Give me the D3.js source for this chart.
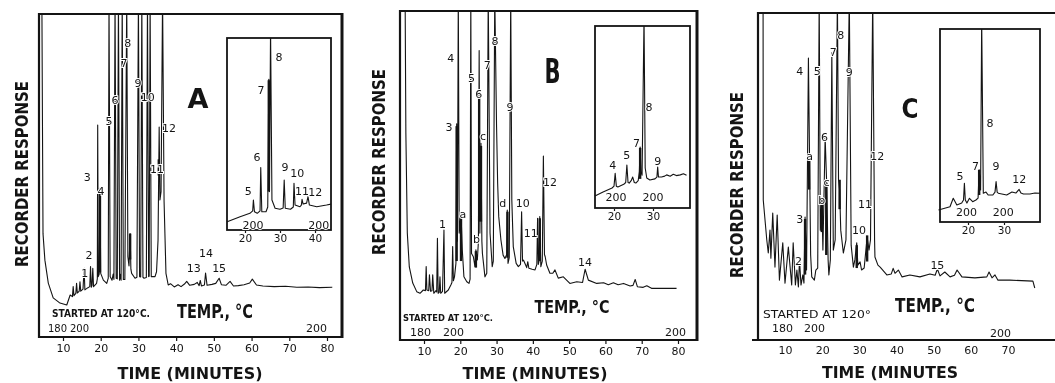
<!DOCTYPE html>
<html>
<head>
<meta charset="utf-8">
<script src="https://cdn.jsdelivr.net/npm/d3@7"></script>
<style>
  body { margin: 0; background: #fff; }
  svg { display: block; will-change: transform; }
  .num { font-family: "DejaVu Sans", sans-serif; font-size: 11px; fill: #141414; }
  .bold { font-family: "DejaVu Sans Condensed", "DejaVu Sans", sans-serif; font-weight: bold; fill: #141414; }
</style>
</head>
<body>
<svg id="fig" width="1055" height="383"></svg>
<script>
// ---- data (time in minutes, response in % of full scale; >100 = off scale) ----
const timeTicksAB = [10, 20, 30, 40, 50, 60, 70, 80];
const timeTicksC = [10, 20, 30, 40, 50, 60, 70];
const insetTicksA = [20, 30, 40];
const insetTicksBC = [20, 30];

const yTitle = "RECORDER RESPONSE";
const xTitles = ["TIME  (MINUTES)", "TIME  (MINUTES)", "TIME  (MINUTES"];
const tempTitle = "TEMP., °C";
const startedTexts = ["STARTED AT 120°C.", "STARTED AT 120°C.", "STARTED AT 120°"];
const startTemps = ["180", "200"];
const endTemp = "200";

const traceA = [[4.4,104],[4.55,67],[4.7,32],[5.2,23.8],[6.1,16.7],[7.4,12.1],[9.2,10.5],[11.0,9.9],
  [11.9,13],[12.5,12.5],[12.7,15.6],[12.9,12.8],[13.4,13.5],[13.6,16.6],[13.8,13.6],[14.3,14.2],[14.5,17.1],[14.7,14.2],
  [15.3,14.8],[15.6,21.3],[15.8,14.6],[16.5,15.2],[17.1,15.6],[17.3,21.8],[17.5,15.4],[17.7,16],[17.9,21.3],[18.1,15.6],
  [18.9,16.6],[19.1,18],[19.2,65.6],[19.35,18.7],[19.6,19.5],[19.8,46],[20.0,19.7],[20.7,17.6],[21.6,16.6],[22.0,18.2],
  [22.2,105],[22.5,18.7],[23.0,17.6],[23.3,19.5],[23.5,17.8],[23.8,105],[24.1,18.2],[24.4,18],[24.7,105],[25.0,17.6],
  [25.2,19.4],[25.4,17.6],[25.7,105],[26.0,17.8],[26.4,17.8],[26.9,105],[27.2,24.9],[27.5,22],[27.8,32],[28.0,21],
  [28.2,19.7],[29.1,18.2],[29.6,18.5],[30.0,105],[30.3,18.7],[30.6,18.6],[30.9,105],[31.2,18.5],[31.5,18.2],[32.1,18.4],
  [32.4,105],[32.7,18.7],[32.85,18.8],[33.1,105],[33.4,18.7],[34.4,18.7],[34.8,20.2],[35.2,30],[35.5,65],[35.7,42.4],
  [36.0,45],[36.4,105],[36.8,42],[37.3,19.7],[37.9,16.1],
  [38.5,16.5],[39.5,15.5],[40.5,16.2],[41.3,15.6],[42.2,16.4],[42.8,17.2],[43.6,16],[44.8,16.3],[45.6,16.9],[46.1,15.9],
  [46.4,17.5],[46.7,15.8],[47.5,16.1],[47.8,19.8],[48.2,16],[49.5,16.3],[50.5,16.6],[51.4,18.2],[52.0,16.2],[53.2,16],
  [54.3,17.2],[55.2,15.8],[56.5,15.9],[58,16.2],[59.5,16.7],[60.2,17.9],[61.3,16.1],[63,15.8],[66,15.6],[69,15.7],
  [72,15.4],[75,15.5],[78,15.3],[81.4,15.4]];
const heavyA = [[19.8,20,46],[27.8,24,32],[35.4,50,55]];
const peakLabelsA = [[15.8,19.8,"1"],[16.9,25.1,"2"],[16.4,49.5,"3"],[20.1,44.9,"4"],[22.2,66.6,"5"],[23.8,73.1,"6"],
  [26.2,84.8,"7"],[27.2,91.0,"8"],[29.9,78.6,"9"],[32.5,74.0,"10"],[34.9,52.0,"11"],[38.1,64.7,"12"],
  [44.7,21.1,"13"],[47.9,26.0,"14"],[51.4,21.1,"15"]];

const insetTraceA = [[14.9,4.3],[18.6,6.9],[21.4,8.7],[22.2,10],[22.4,15.6],[22.7,9.5],[23.5,8.7],[24.3,10],[24.5,32.5],
  [24.8,9.5],[26.0,9.5],[26.5,12],[26.8,78.5],[27.0,20],[27.3,105],[27.7,15.6],[28.6,11.3],[30.0,10.8],[30.9,11.5],
  [31.2,26],[31.5,11.3],[33.0,10.8],[33.8,12],[34.0,24.3],[34.3,13],[35.7,12.1],[36.1,13],[36.3,16],[36.6,13.5],
  [37.6,14],[38.0,17.4],[38.4,13],[40.5,12.1],[43.3,13],[44.6,13.5]];
const insetHeavyA = [[26.8,20,78]];
const insetLabelsA = [[20.9,19.8,"5"],[23.4,38,"6"],[24.6,72.9,"7"],[29.7,89.6,"8"],[31.4,32.3,"9"],[34.9,29.2,"10"],
  [36.3,19.8,"11"],[40.1,19.3,"12"]];
const insetTempsA = [[22.3,2.6,"200"],[41.1,2.6,"200"]];

const traceB = [[4.8,104],[5.0,63],[5.4,32.5],[5.95,22.2],[6.9,17.3],[8.0,14.7],[8.9,14.2],[9.8,15.2],[10.4,15],[10.6,22.3],
  [10.8,15.2],[11.3,15],[11.5,19.8],[11.8,14.8],[12.2,15],[12.4,19.8],[12.7,14.2],[13.3,15],[13.5,14.6],[13.7,30.9],
  [13.9,14.2],[14.2,14.5],[14.4,19.2],[14.6,14.2],[15.1,14.8],[15.5,33.4],[15.7,14.2],[16.7,15.2],[17.4,16.7],[17.7,17.5],
  [17.9,28.4],[18.1,18],[18.4,19.2],[18.8,23.3],[19.0,65.7],[19.2,30],[19.45,105],[19.7,32.5],[20.2,38.5],[20.55,27.4],
  [21.0,19.2],[21.8,17.7],[22.4,17.2],[22.7,18.5],[22.9,105],[23.1,26.3],[23.6,25.3],[24.05,22.3],[24.3,27.4],[24.7,24.3],
  [25.0,30],[25.2,88],[25.4,32.5],[25.7,59.8],[25.95,30],[26.1,26.3],[26.8,19.2],[27.3,20.3],[27.7,105],[28.2,32.5],
  [28.8,22.3],[29.1,24],[29.5,105],[30.0,64.8],[30.3,47.6],[30.6,37.5],[31.2,30.4],[31.8,25.8],[32.3,24.8],[32.8,26],
  [32.95,39.5],[33.15,23.3],[33.5,25],[33.9,105],[34.2,42.6],[34.6,28.4],[35.4,23.3],[36.0,22.3],[36.6,23],[36.9,39],
  [37.15,24],[37.4,24.3],[37.8,23.3],[38.3,22],[38.6,23.8],[38.9,21.8],[39.8,21.5],[40.6,21.3],[41.1,23],[41.3,37],
  [41.5,23],[41.7,24],[41.9,37.5],[42.2,22.3],[42.6,24],[42.9,55.9],[43.2,26],[43.4,25.3],[43.8,22.8],[44.7,20.3],
  [45.5,20.3],[46.1,21.3],[47.0,18.8],[48.4,19.2],[50.2,17.2],[52.1,17.7],[53.7,17.5],[54.4,21.5],[55.3,18.2],[57.6,17.2],
  [59.5,17.4],[60.8,16.8],[62.2,17.4],[63.5,16.8],[65.0,17.2],[66.8,16.4],[67.6,16.6],[68.2,18.4],[68.8,16.2],[70.4,16],
  [71.4,16.5],[72.7,15.7],[75.9,15.7],[79.6,15.7]];
const heavyB = [[19.0,24,65],[20.2,24,38],[24.3,22,27],[25.2,36,74],[25.7,36,59],[33.0,25,39],[41.9,24,37]];
const peakLabelsB = [[15.1,35,"1"],[16.9,64.7,"3"],[17.4,85.7,"4"],[20.7,38,"a"],[23.1,79.6,"5"],[25.1,74.5,"6"],
  [24.5,30.4,"b"],[26.3,62,"c"],[27.4,83.3,"7"],[29.6,90.6,"8"],[33.7,70.8,"9"],[31.7,41.6,"d"],[37.2,41.6,"10"],
  [39.4,32.5,"11"],[44.7,48,"12"],[54.4,23.7,"14"]];

const insetTraceB = [[15.1,6.6],[17.2,8.8],[19.5,11],[20.0,12],[20.3,19],[20.6,12],[21.0,11.5],[22.5,13],[23.0,14],
  [23.3,23.6],[23.6,14],[23.9,13.7],[24.4,15],[24.8,17],[25.2,14],[25.6,13.7],[26.2,15],[26.5,20],[26.7,33.5],[26.9,20],
  [27.2,18],[27.7,105],[28.0,22],[28.4,16.5],[29.2,15.4],[30.5,16],[31.0,17],[31.2,22.5],[31.4,17],[32.2,17],[33.0,17.5],
  [33.5,18.2],[34.4,17.5],[35.2,18.5],[36.0,17.8],[37.0,18.2],[37.8,18.8],[38.6,18]];
const insetHeavyB = [[26.7,16,33]];
const insetLabelsB = [[19.7,23.6,"4"],[23.3,28.6,"5"],[25.8,35.7,"7"],[29,55,"8"],[31.2,25.3,"9"]];
const insetTempsB = [[20.5,5.5,"200"],[30,5.5,"200"]];

const traceC = [[4.1,104],[4.15,42.8],[5.1,30.6],[5.5,26.6],[5.96,33.6],[6.2,25],[6.7,38.8],[7.3,22.3],[7.9,38.2],
  [8.5,18.3],[9.4,29.7],[10.0,17.4],[10.9,28.4],[11.8,16.8],[12.2,29.7],[12.8,16.8],[13.2,21.4],[13.6,16.2],[13.9,24.5],
  [14.3,16.8],[14.8,19.9],[15.1,17.4],[15.4,37.6],[15.8,21.4],[16.3,86.2],[16.6,56],[16.9,26],[17.2,19.3],[17.9,18.3],
  [18.3,21.4],[18.8,22],[19.2,105],[19.5,33.6],[19.9,42.8],[20.2,27.5],[20.8,62],[21.2,48.3],[21.6,24.5],[21.8,19.9],
  [22.2,24.5],[22.6,87.8],[23.0,27.5],[23.5,30.6],[24.1,105],[24.4,49],[24.7,45.9],[25.0,33.6],[25.7,26.6],[26.4,30.6],
  [27.3,105],[27.8,29],[28.4,22.3],[28.8,24.5],[29.3,29.7],[29.6,22.9],[30.2,23.9],[30.6,21.4],[31.3,22],[32.1,31.5],
  [32.6,27.5],[33.0,30.6],[33.6,105],[34.1,30.6],[34.2,25.4],[35.0,22.9],[35.6,22.3],[37.4,19.9],[38.6,20.2],[39.1,21.9],
  [39.6,20.4],[40.5,21.4],[41.5,19.3],[43.6,19.9],[46.3,19.3],[49.0,20.2],[50.4,19.8],[51.0,21.7],[51.7,19.6],[53.0,20.8],
  [54.4,19.3],[55.6,19.8],[56.3,21.4],[57.6,19.3],[61.1,19.0],[64.3,19.3],[64.9,20.8],[65.7,19.0],[66.5,19.9],[67.3,18.3],
  [70.5,18.3],[76.7,18.0],[77.2,15.9]];
const heavyC = [[15.4,20,37],[16.5,46,56],[19.9,33,43],[21.1,26,48],[24.7,40,49],[29.3,22,29],[32.1,24,32]];
const peakLabelsC = [[13.6,23.9,"2"],[14.0,36.7,"3"],[14.0,82,"4"],[16.6,56,"a"],[18.7,82,"5"],[19.9,42.8,"b"],
  [20.6,62,"6"],[21.2,48.3,"c"],[23.0,88,"7"],[25.0,93,"8"],[27.3,81.7,"9"],[29.9,33.6,"10"],[31.5,41.3,"11"],
  [34.8,56,"12"],[51.0,22.9,"15"]];

const insetTraceC = [[11.8,6.2],[15.0,7.9],[15.9,12.3],[16.9,8.8],[18.25,9.8],[18.75,11.4],[19.0,20],[19.25,11.4],
  [19.7,9.8],[20.4,12.3],[21.3,10.5],[22.2,11.4],[22.8,12.4],[23.1,27],[23.5,16.6],[23.8,105],[24.25,14.9],[25.0,15.5],
  [25.6,14],[26.9,14],[27.5,15.5],[27.8,20.9],[28.1,15.5],[28.4,14.9],[30.75,14],[32.2,15.5],[33.3,15],[34.2,16.9],
  [34.7,15],[35.4,14.5],[37.2,14.5],[38.6,15],[40.0,14.9]];
const insetHeavyC = [[23.1,14,27]];
const insetLabelsC = [[17.8,23.5,"5"],[22.1,28.7,"7"],[26.1,51.1,"8"],[27.8,28.7,"9"],[34.25,21.8,"12"]];
const insetTempsC = [[19.6,5,"200"],[29.8,5,"200"]];

// ---- layout ----
const ink = "#141414";
const svg = d3.select("#fig");
const defs = svg.append("defs");

const panels = [
  { id: "A", frame: { l: 39, t: 14, r: 342, b: 337 }, closed: true,
    xd: [10, 80], xr: [63, 327], ticks: timeTicksAB, tickSize: 3, tickPad: 3,
    trace: traceA, heavy: heavyA, labels: peakLabelsA,
    inset: { box: { l: 227, t: 38, r: 331, b: 230 }, xd: [20, 40], xr: [245, 315], ticks: insetTicksA,
      trace: insetTraceA, heavy: insetHeavyA, labels: insetLabelsA, temps: insetTempsA },
    letter: { x: 198, y: 108, size: 27, len: 21 },
    yT: { x: 22, y: 174 }, xT: { x: 190, y: 379, len: 145 },
    temp: { x: 215, y: 318, size: 20, len: 76 },
    started: { x: 52, y: 317, len: 98, size: 10 },
    startT: { x1: 48, x2: 70, y: 332, size: 10 }, endT: { x: 306, y: 332 } },
  { id: "B", frame: { l: 400, t: 11, r: 697, b: 340 }, closed: true,
    xd: [10, 80], xr: [424, 678], ticks: timeTicksAB, tickSize: 3, tickPad: 3,
    trace: traceB, heavy: heavyB, labels: peakLabelsB,
    inset: { box: { l: 595, t: 26, r: 690, b: 208 }, xd: [20, 30], xr: [614, 653], ticks: insetTicksBC,
      trace: insetTraceB, heavy: insetHeavyB, labels: insetLabelsB, temps: insetTempsB },
    letter: { x: 552.5, y: 83, size: 34, len: 16 },
    yT: { x: 379, y: 162 }, xT: { x: 535, y: 379, len: 145 },
    temp: { x: 572, y: 313, size: 17, len: 75 },
    started: { x: 403, y: 321, len: 90, size: 9 },
    startT: { x1: 410, x2: 443, y: 336, size: 11 }, endT: { x: 665, y: 336 } },
  { id: "C", frame: { l: 758, t: 13, r: 1055, b: 340 }, closed: false,
    xd: [10, 70], xr: [785, 1008], ticks: timeTicksC, tickSize: 0, tickPad: 5,
    trace: traceC, heavy: heavyC, labels: peakLabelsC,
    inset: { box: { l: 940, t: 29, r: 1040, b: 222 }, xd: [20, 30], xr: [968, 1004], ticks: insetTicksBC,
      trace: insetTraceC, heavy: insetHeavyC, labels: insetLabelsC, temps: insetTempsC },
    letter: { x: 910, y: 118, size: 27, len: 17 },
    yT: { x: 737, y: 185 }, xT: { x: 890, y: 378, len: 136 },
    temp: { x: 935, y: 312, size: 19, len: 80 },
    started: { x: 763, y: 318, len: 108, size: 11 },
    startT: { x1: 772, x2: 804, y: 332, size: 11 }, endT: { x: 990, y: 337 } }
];

function clipRect(id, l, t, r, b) {
  defs.append("clipPath").attr("id", id).append("rect")
    .attr("x", l).attr("y", t).attr("width", r - l).attr("height", b - t);
  return `url(#${id})`;
}

function drawTrace(g, data, heavy, x, y, clip) {
  const line = d3.line().x(d => x(d[0])).y(d => y(d[1]));
  const cg = g.append("g").attr("clip-path", clip);
  cg.append("path").datum(data).attr("d", line)
    .attr("fill", "none").attr("stroke", ink).attr("stroke-width", 1.1).attr("stroke-linejoin", "round");
  cg.selectAll(null).data(heavy).join("line")
    .attr("x1", d => x(d[0])).attr("x2", d => x(d[0]))
    .attr("y1", d => y(d[1])).attr("y2", d => y(d[2]))
    .attr("stroke", ink).attr("stroke-width", 2.4);
}

function drawLabels(g, data, x, y, size) {
  g.selectAll(null).data(data).join("text").attr("class", "num")
    .attr("x", d => x(d[0])).attr("y", d => y(d[1]))
    .attr("text-anchor", "middle").attr("dominant-baseline", "central")
    .attr("stroke", "#fff").attr("stroke-width", 2).attr("paint-order", "stroke")
    .style("font-size", size + "px").text(d => d[2]);
}

function styleAxis(s, size) {
  s.select(".domain").remove();
  s.selectAll(".tick line").attr("stroke", ink).attr("stroke-width", 1.2);
  s.selectAll(".tick text").attr("class", "num").attr("fill", ink)
    .style("font-size", size + "px").attr("font-family", null).attr("font-size", null);
}

function boldText(g, txt, x, y, size, len, anchor) {
  return g.append("text").attr("class", "bold").attr("x", x).attr("y", y)
    .attr("text-anchor", anchor || "middle").style("font-size", size + "px")
    .attr("textLength", len).attr("lengthAdjust", "spacingAndGlyphs").text(txt);
}

panels.forEach((p, i) => {
  const g = svg.append("g");
  const f = p.frame;
  const x = d3.scaleLinear().domain(p.xd).range(p.xr);
  const y = d3.scaleLinear().domain([0, 100]).range([f.b, f.t]);

  drawTrace(g, p.trace, p.heavy, x, y, clipRect("clip" + p.id, f.l, f.t, f.r, f.b));
  drawLabels(g, p.labels, x, y, 11);

  // frame
  g.append("line").attr("x1", f.l).attr("x2", f.r).attr("y1", f.t).attr("y2", f.t)
    .attr("stroke", ink).attr("stroke-width", 2);
  g.append("line").attr("x1", f.l).attr("x2", f.l).attr("y1", f.t - 1).attr("y2", f.b + 1)
    .attr("stroke", ink).attr("stroke-width", 2.2);
  g.append("line").attr("x1", f.l - (p.closed ? 1 : 6)).attr("x2", f.r + 1).attr("y1", f.b).attr("y2", f.b)
    .attr("stroke", ink).attr("stroke-width", 2.2);
  if (p.closed) {
    g.append("line").attr("x1", f.r).attr("x2", f.r).attr("y1", f.t - 1).attr("y2", f.b + 1)
      .attr("stroke", ink).attr("stroke-width", 3);
  }

  // time axis
  g.append("g").attr("transform", `translate(0,${f.b + 1})`)
    .call(d3.axisBottom(x).tickValues(p.ticks).tickSize(p.tickSize).tickPadding(p.tickPad).tickFormat(d3.format("d")))
    .call(s => styleAxis(s, 11));

  // inset
  const n = p.inset, b = n.box;
  const ix = d3.scaleLinear().domain(n.xd).range(n.xr);
  const iy = d3.scaleLinear().domain([0, 100]).range([b.b, b.t]);
  g.append("rect").attr("x", b.l).attr("y", b.t).attr("width", b.r - b.l).attr("height", b.b - b.t)
    .attr("fill", "#fff").attr("stroke", ink).attr("stroke-width", 1.8);
  drawTrace(g, n.trace, n.heavy, ix, iy, clipRect("iclip" + p.id, b.l - 4, b.t, b.r, b.b));
  drawLabels(g, n.labels, ix, iy, 11);
  drawLabels(g, n.temps, ix, iy, 11);
  g.append("g").attr("transform", `translate(0,${b.b + 1})`)
    .call(d3.axisBottom(ix).tickValues(n.ticks).tickSize(2).tickPadding(2).tickFormat(d3.format("d")))
    .call(s => styleAxis(s, 10.5));

  // big panel letter
  boldText(g, p.id, p.letter.x, p.letter.y, p.letter.size, p.letter.len).style("font-weight", "900");

  // titles
  boldText(g, yTitle, 0, 0, 17, 186)
    .attr("dominant-baseline", "central")
    .attr("transform", `translate(${p.yT.x},${p.yT.y}) rotate(-90)`);
  boldText(g, xTitles[i], p.xT.x, p.xT.y, 16, p.xT.len);
  boldText(g, tempTitle, p.temp.x, p.temp.y, p.temp.size, p.temp.len);

  // temperature programme notes
  g.append("text").attr("class", "num").attr("x", p.started.x).attr("y", p.started.y)
    .style("font-size", p.started.size + "px").style("font-weight", i < 2 ? "bold" : "normal")
    .attr("textLength", p.started.len).attr("lengthAdjust", "spacingAndGlyphs").text(startedTexts[i]);
  g.selectAll(null).data([p.startT.x1, p.startT.x2]).join("text").attr("class", "num")
    .attr("x", d => d).attr("y", p.startT.y).style("font-size", p.startT.size + "px")
    .text((d, k) => startTemps[k]);
  g.append("text").attr("class", "num").attr("x", p.endT.x).attr("y", p.endT.y).text(endTemp);
});
</script>
</body>
</html>
